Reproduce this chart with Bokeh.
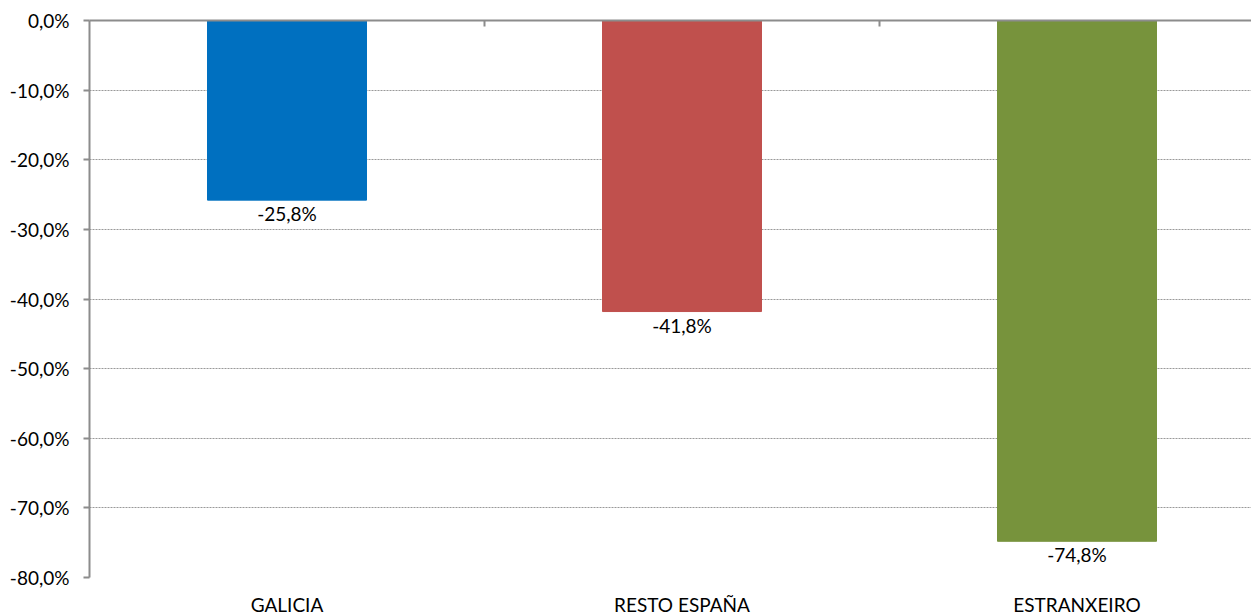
from bokeh.plotting import figure
from bokeh.models import Range1d, LinearAxis, FixedTicker, ColumnDataSource
from bokeh.embed import file_html
from bokeh.resources import INLINE
from bokeh.core.properties import value

categories = ["GALICIA", "RESTO ESPAÑA", "ESTRANXEIRO"]
values = [-25.8, -41.8, -74.8]
colors = ["#0070C0", "#C0504D", "#77933C"]
labels = ["-25,8%", "-41,8%", "-74,8%"]
y_ticks = [0, -10, -20, -30, -40, -50, -60, -70, -80]
y_tick_labels = ["0,0%", "-10,0%", "-20,0%", "-30,0%", "-40,0%", "-50,0%", "-60,0%", "-70,0%", "-80,0%"]

FONT = "Lato"
FS = "19px"
GRAY = "#8c8c8c"

xs = [i + 0.5 for i in range(len(categories))]
src = ColumnDataSource(dict(x=xs, top=[0] * len(values), bottom=values, color=colors, label=labels))

FW = 1162
p = figure(frame_width=FW, frame_height=557, min_border_left=89, min_border_right=0,
           min_border_top=20, min_border_bottom=29, output_backend="svg",
           toolbar_location=None, x_axis_location=None, y_axis_location=None)
p.x_range = Range1d(0, FW / 395)
p.y_range = Range1d(-80, 0)
p.outline_line_color = None
p.background_fill_color = "white"
p.border_fill_color = "white"

p.vbar(x="x", top="top", bottom="bottom", width=159 / 395, color="color", source=src)
p.text(x="x", y="bottom", text="label", source=src, text_align="center", text_baseline="top",
       y_offset=2, text_font=value(FONT), text_font_size=FS, text_color="#000000")

# left axis
yax = LinearAxis(ticker=FixedTicker(ticks=y_ticks),
                 major_label_overrides={t: l for t, l in zip(y_ticks, y_tick_labels)})
yax.axis_line_color = GRAY
yax.axis_line_width = 2
yax.major_tick_line_color = GRAY
yax.major_tick_line_width = 2
yax.major_tick_in = 0
yax.major_tick_out = 6
yax.minor_tick_line_color = None
yax.major_label_standoff = 14
yax.major_label_text_font = FONT
yax.major_label_text_font_size = FS
yax.major_label_text_color = "#000000"
p.add_layout(yax, "left")

# top axis (category boundaries)
tax = LinearAxis(ticker=FixedTicker(ticks=[1, 2]))
tax.axis_line_color = GRAY
tax.axis_line_width = 2
tax.major_tick_line_color = GRAY
tax.major_tick_line_width = 2
tax.major_tick_in = 6
tax.major_tick_out = 0
tax.minor_tick_line_color = None
tax.major_label_text_font_size = "0px"
tax.major_label_text_color = None
tax.major_label_standoff = 0
p.add_layout(tax, "above")

# bottom category labels
bax = LinearAxis(ticker=FixedTicker(ticks=xs),
                 major_label_overrides={x: c for x, c in zip(xs, categories)})
bax.axis_line_color = None
bax.major_tick_line_color = None
bax.minor_tick_line_color = None
bax.major_tick_out = 0
bax.major_tick_in = 0
bax.major_label_standoff = 15
bax.major_label_text_font = FONT
bax.major_label_text_font_size = FS
bax.major_label_text_color = "#000000"
p.add_layout(bax, "below")

p.xgrid.visible = False
p.ygrid.ticker = FixedTicker(ticks=y_ticks[1:])
p.ygrid.grid_line_color = "#999999"
p.ygrid.grid_line_dash = "2 1"
p.ygrid.grid_line_width = 1

open("out.html", "w").write(file_html(p, INLINE))
